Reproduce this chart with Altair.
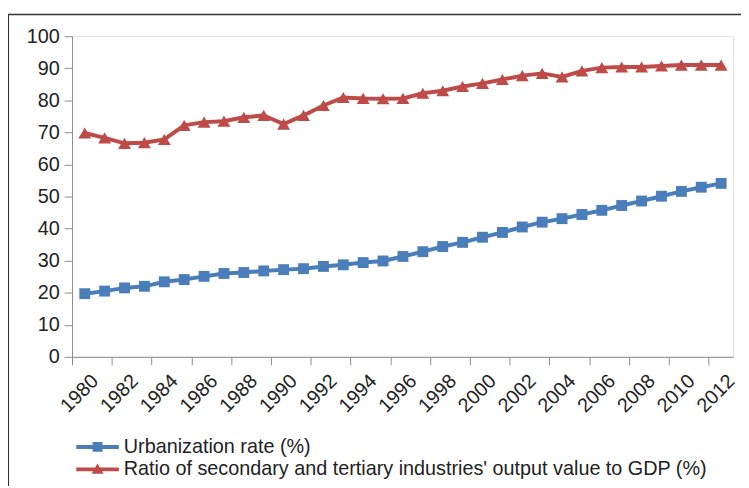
import altair as alt
import pandas as pd

years = list(range(1980, 2013))
urbanization = [19.7, 20.5, 21.5, 22.0, 23.4, 24.1, 25.1, 26.0, 26.3, 26.8,
                27.2, 27.5, 28.2, 28.7, 29.4, 29.9, 31.3, 32.8, 34.4, 35.7,
                37.3, 38.8, 40.5, 42.0, 43.1, 44.4, 45.7, 47.2, 48.6, 50.1,
                51.6, 52.9, 54.1]
ratio = [69.8, 68.3, 66.6, 66.8, 67.8, 72.2, 73.2, 73.5, 74.7, 75.3,
         72.6, 75.3, 78.4, 80.9, 80.6, 80.5, 80.6, 82.2, 83.0, 84.3,
         85.3, 86.5, 87.7, 88.4, 87.3, 89.2, 90.2, 90.4, 90.4, 90.7,
         91.0, 91.0, 91.0]
series_names = ["Urbanization rate (%)",
                "Ratio of secondary and tertiary industries' output value to GDP (%)"]
series_colors = ["#4A7EBB", "#BE4B48"]
x_label_years = list(range(1980, 2013, 2))
y_ticks = list(range(0, 101, 10))

df = pd.DataFrame({
    "year": years * 2,
    "value": urbanization + ratio,
    "series": [series_names[0]] * len(years) + [series_names[1]] * len(years),
})

OFF = 0.64
x_dom = [1980 - OFF, 2012.6]
tick_vals = [y - OFF for y in x_label_years]

FONT = "Liberation Sans"
FS = 20
W, H = 668, 324

LEG_SQUARE = "M-2.15,-0.2H2.15V0.2H-2.15Z M-0.5,-0.5H0.5V0.5H-0.5Z"
LEG_TRI = "M-2.15,-0.2H2.15V0.2H-2.15Z M0,-0.6L0.6,0.45H-0.6Z"

legend = alt.Legend(
    title=None, orient="none", legendX=15.8, legendY=405, direction="vertical",
    padding=0, rowPadding=2.7, symbolSize=400, labelOffset=16.5,
    symbolStrokeWidth=0, symbolOpacity=1,
    labelFont=FONT, labelFontSize=FS, labelColor="#222222", labelLimit=700,
)

color_scale = alt.Scale(domain=series_names, range=series_colors)
color_enc = alt.Color("series:N", scale=color_scale)

x_enc = alt.X(
    "year:Q",
    scale=alt.Scale(domain=x_dom, nice=False, zero=False),
    axis=alt.Axis(
        title=None, values=tick_vals, grid=False,
        labelExpr="format(round(datum.value + 0.64), 'd')",
        labelAngle=315, labelAlign="right", labelBaseline="middle",
        labelOffset=23, labelPadding=13, tickSize=8,
        labelFont=FONT, labelFontSize=FS, labelColor="#222222",
        domainColor="#8c8c8c", tickColor="#8c8c8c", labelOverlap=False,
        labelFlush=False,
    ),
)
y_enc = alt.Y(
    "value:Q",
    scale=alt.Scale(domain=[0, 100], nice=False),
    axis=alt.Axis(
        title=None, values=y_ticks, grid=False, tickSize=8, labelPadding=5,
        labelFont=FONT, labelFontSize=FS, labelColor="#222222",
        domainColor="#8c8c8c", tickColor="#8c8c8c",
    ),
)

base = alt.Chart(df)
lines = base.mark_line(strokeWidth=4).encode(x=x_enc, y=y_enc, color=color_enc)
pts_u = base.transform_filter(alt.datum.series == series_names[0]).mark_point(
    filled=True, opacity=1, shape="square", size=121).encode(x=x_enc, y=y_enc, color=color_enc)
pts_r = base.transform_filter(alt.datum.series == series_names[1]).mark_point(
    filled=True, opacity=1, shape="triangle-up", size=169).encode(x=x_enc, y=y_enc, color=color_enc)

legend_layer = base.transform_filter("datum.year < 0").mark_point(
    filled=True, opacity=1, size=400, strokeWidth=0).encode(
    x=x_enc, y=y_enc,
    color=alt.Color("series:N", scale=color_scale, legend=legend),
    shape=alt.Shape("series:N", scale=alt.Scale(domain=series_names, range=[LEG_SQUARE, LEG_TRI]),
                    legend=legend),
)

frame = alt.Chart(alt.Data(values=[{"a": 1}])).mark_rect(
    filled=False, stroke="#333333", strokeWidth=1.5
).encode(x=alt.value(-64.4), y=alt.value(-22), x2=alt.value(W + 60), y2=alt.value(H + 200))

chart = alt.layer(legend_layer, lines, pts_u, pts_r, frame).properties(
    width=W, height=H,
    autosize=alt.AutoSizeParams(type="none"),
    padding={"left": 64.7, "top": 26, "right": 8, "bottom": 128},
).configure_view(stroke=None).configure(background="white")

chart.save("out.html", embed_options={"renderer": "svg", "actions": False})
